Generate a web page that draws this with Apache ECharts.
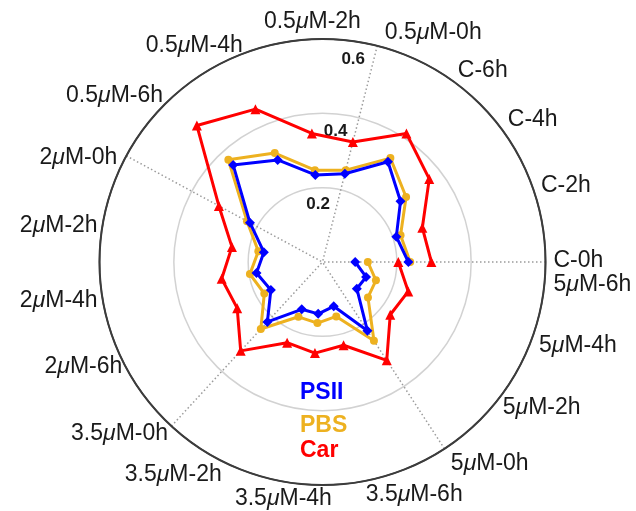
<!DOCTYPE html>
<html>
<head>
<meta charset="utf-8">
<script src="https://cdn.jsdelivr.net/npm/echarts@6/dist/echarts.min.js"></script>
<style>html,body{margin:0;padding:0;background:#fff}#c{width:636px;height:511px}</style>
</head>
<body>
<div id="c"></div>
<script>
// ---- data ----
const categories = ['C-0h','C-2h','C-4h','C-6h','0.5μM-0h','0.5μM-2h','0.5μM-4h','0.5μM-6h',
  '2μM-0h','2μM-2h','2μM-4h','2μM-6h','3.5μM-0h','3.5μM-2h','3.5μM-4h','3.5μM-6h',
  '5μM-0h','5μM-2h','5μM-4h','5μM-6h'];
const psii = [0.231, 0.210, 0.266, 0.322, 0.245, 0.235, 0.300, 0.355, 0.222, 0.160,
  0.180, 0.158, 0.219, 0.139, 0.140, 0.123, 0.221, 0.117, 0.124, 0.088];
const pbs = [0.236, 0.222, 0.285, 0.334, 0.255, 0.248, 0.320, 0.374, 0.231, 0.175,
  0.198, 0.178, 0.245, 0.161, 0.165, 0.151, 0.253, 0.155, 0.152, 0.122];
const car = [0.293, 0.284, 0.364, 0.413, 0.333, 0.347, 0.449, 0.499, 0.317, 0.247,
  0.275, 0.261, 0.325, 0.237, 0.246, 0.231, 0.316, 0.231, 0.244, 0.204];
const radiusMin = 0, radiusMax = 0.6, radiusStep = 0.2;
const seriesNames = ['PSII', 'PBS', 'Car'];

// ---- layout / style (not data) ----
const labelNudge = [[0,11],[0,0],[3,1],[9,3],[54,-4],[9,-9],[13,-4],[-3,5],[-2,7],[3,2],
  [3,1],[3,-6],[2,1],[-8,0],[-20,5],[35,8],[2,7],[-2,3],[-2,8],[0,0]];
const FONT = "'Liberation Sans', Arial, Helvetica, sans-serif";
const TXT = '#1a1a1a';

function richText(name, big) {
  const s = big ? 'b' : 'a';
  return name.split('μ').map(p => p ? '{' + s + '|' + p + '}' : '').join('{' + s + 'i|μ}');
}

const chart = echarts.init(document.getElementById('c'), null, {renderer: 'canvas'});
const legendBase = {
  orient: 'vertical', itemWidth: 0, itemHeight: 0, padding: 0, selectedMode: false,
  itemStyle: {opacity: 0}, lineStyle: {opacity: 0},
  textStyle: {fontSize: 23, fontWeight: 'bold', fontFamily: FONT}
};
const colors = {PSII: '#0000ff', PBS: '#edb120', Car: '#ff0000'};
const option = {
  animation: false,
  backgroundColor: '#ffffff',
  polar: [
    {center: [322.5, 262], radius: 223},
    {center: [320, 278], radius: 223}
  ],
  angleAxis: [
    {
      polarIndex: 0, type: 'category', boundaryGap: false,
      startAngle: 0, endAngle: 378, clockwise: false,
      data: categories.map((c, i) => ({
        value: c,
        textStyle: {padding: [labelNudge[i][1], -labelNudge[i][0], -labelNudge[i][1], labelNudge[i][0]]}
      })),
      axisLine: {show: true, lineStyle: {color: '#3c3c3c', width: 2}},
      axisTick: {show: false, interval: 3},
      splitLine: {show: true, interval: 3, lineStyle: {color: '#9b9b9b', width: 1.5, type: [1.5, 2.5]}},
      axisLabel: {
        show: true, interval: 0, margin: 8, color: TXT, fontSize: 23, fontFamily: FONT, lineHeight: 2,
        formatter: (v, i) => i === 0
          ? richText(v, true) + '\n' + richText(categories[categories.length - 1], true)
          : (i === categories.length - 1 ? '' : richText(v, false)),
        rich: {
          a: {fontSize: 23, lineHeight: 2, fontFamily: FONT, color: TXT},
          ai: {fontSize: 23, lineHeight: 2, fontFamily: FONT, color: TXT, fontStyle: 'italic'},
          b: {fontSize: 23, lineHeight: 24, fontFamily: FONT, color: TXT},
          bi: {fontSize: 23, lineHeight: 24, fontFamily: FONT, color: TXT, fontStyle: 'italic'}
        }
      }
    },
    {polarIndex: 1, type: 'value', min: 0, max: 360, startAngle: 76.3, show: false}
  ],
  radiusAxis: [
    {
      polarIndex: 0, type: 'value', min: radiusMin, max: radiusMax, interval: radiusStep,
      axisLine: {show: false}, axisTick: {show: false}, axisLabel: {show: false},
      splitLine: {show: true, lineStyle: {color: ['#d2d2d2', '#d2d2d2', '#d2d2d2', '#3c3c3c'], width: 1.5}}
    },
    {
      polarIndex: 1, type: 'value', min: radiusMin, max: radiusMax, interval: radiusStep,
      axisLine: {show: false}, axisTick: {show: false}, splitLine: {show: false},
      axisLabel: {show: true, showMinLabel: false, margin: 8, fontSize: 17, fontWeight: 'bold',
        color: TXT, fontFamily: FONT}
    }
  ],
  legend: [
    Object.assign({}, legendBase, {left: 294, top: 381, data: [{name: 'PSII', textStyle: {color: colors.PSII}}]}),
    Object.assign({}, legendBase, {left: 294, top: 414, data: [{name: 'PBS', textStyle: {color: colors.PBS}}]}),
    Object.assign({}, legendBase, {left: 294, top: 439, data: [{name: 'Car', textStyle: {color: colors.Car}}]})
  ],
  series: [
    {name: 'Car', type: 'line', coordinateSystem: 'polar', polarIndex: 0,
      data: car.map((v, i) => [v, i]), symbol: 'triangle', symbolSize: 10, showAllSymbol: true,
      lineStyle: {color: colors.Car, width: 3}, itemStyle: {color: colors.Car}, z: 3},
    {name: 'PBS', type: 'line', coordinateSystem: 'polar', polarIndex: 0,
      data: pbs.map((v, i) => [v, i]), symbol: 'circle', symbolSize: 8, showAllSymbol: true,
      lineStyle: {color: colors.PBS, width: 3}, itemStyle: {color: colors.PBS}, z: 4},
    {name: 'PSII', type: 'line', coordinateSystem: 'polar', polarIndex: 0,
      data: psii.map((v, i) => [v, i]), symbol: 'diamond', symbolSize: 10, showAllSymbol: true,
      lineStyle: {color: colors.PSII, width: 3}, itemStyle: {color: colors.PSII}, z: 5}
  ]
};
chart.setOption(option);
</script>
</body>
</html>
